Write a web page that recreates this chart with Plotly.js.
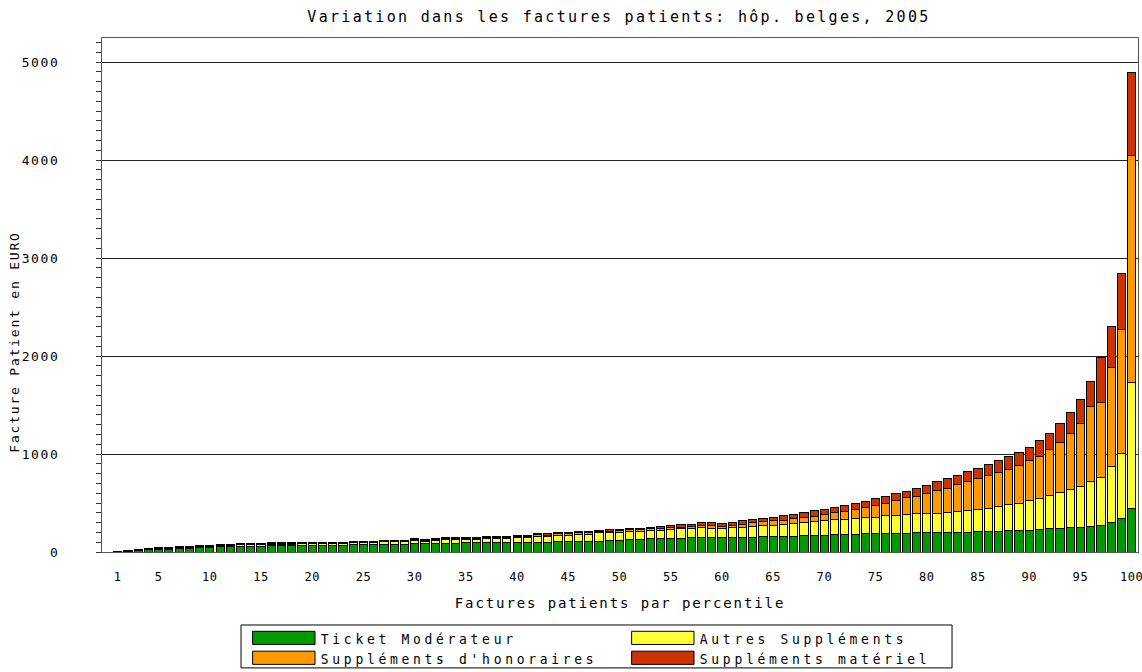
<!DOCTYPE html>
<html><head><meta charset="utf-8">
<script src="https://cdn.plot.ly/plotly-3.0.1.min.js"></script>
<style>
html,body{margin:0;padding:0;background:#fff}
#chart{width:1142px;height:672px}
text.gtitle{letter-spacing:2.3px}
text.xtitle{letter-spacing:1.9px}
text.annotation-text{letter-spacing:1.8px}
g.ytick text{letter-spacing:1.6px}
g.xtick text{letter-spacing:0.6px}
text.legendtext{letter-spacing:3.7px;transform-box:fill-box;transform-origin:center;transform:scaleY(1.15)}
g.legendpoints path{transform:translate(43px,0px) scale(5.2,1.1);vector-effect:non-scaling-stroke}
</style>
</head><body><div id="chart"></div><script>
const percentiles = [1,2,3,4,5,6,7,8,9,10,11,12,13,14,15,16,17,18,19,20,
21,22,23,24,25,26,27,28,29,30,31,32,33,34,35,36,37,38,39,40,
41,42,43,44,45,46,47,48,49,50,51,52,53,54,55,56,57,58,59,60,
61,62,63,64,65,66,67,68,69,70,71,72,73,74,75,76,77,78,79,80,
81,82,83,84,85,86,87,88,89,90,91,92,93,94,95,96,97,98,99,100];

const ticketModerateur = [6,10,16,21,28,29,38,39,46,47,54,55,59,60,60,64,65,65,68,70,
68,69,70,75,74,75,78,77,78,82,84,85,88,88,92,92,95,99,99,99,
100,102,102,105,106,109,111,111,122,122,126,126,133,136,139,140,143,143,146,149,
149,153,153,159,163,159,163,173,173,173,176,183,183,185,184,191,190,190,197,197,
197,197,197,197,207,207,207,217,217,224,231,240,241,248,255,259,266,300,338,441];

const autresSupplements = [2,3,5,7,8,8,10,10,12,12,13,13,14,14,14,16,15,16,18,18,
19,19,18,20,20,21,25,26,25,32,28,30,35,36,37,38,40,42,42,54,
53,58,54,68,64,71,72,83,72,82,86,88,88,86,89,95,92,102,95,92,
102,101,108,109,112,119,132,129,139,149,153,146,156,163,172,178,179,189,193,200,
200,206,217,227,231,241,259,266,283,304,310,336,369,390,417,465,493,569,669,1284];

const supplementsHonoraires = [1,2,3,3,4,4,5,5,5,5,6,5,6,6,6,6,6,6,7,7,
6,6,6,8,6,7,10,10,9,9,9,9,10,10,11,11,11,12,12,9,
9,15,16,14,15,17,14,14,20,14,14,15,17,20,21,17,23,27,28,20,
17,31,41,40,44,44,44,47,54,61,71,88,98,105,122,130,158,173,179,200,
231,245,276,300,310,335,344,362,386,403,431,465,511,576,638,759,765,1010,1262,2316];

const supplementsMateriel = [1,2,3,3,4,3,5,4,5,4,5,5,6,5,5,6,6,5,6,7,
6,5,5,6,5,6,9,9,7,10,8,9,10,9,10,9,10,10,10,8,
8,12,12,10,12,10,10,10,14,10,12,12,14,20,20,24,24,24,31,34,
34,37,34,38,37,54,47,51,54,48,51,54,58,65,70,70,73,69,79,86,
89,100,93,97,107,107,121,131,131,138,166,173,189,207,249,258,459,424,569,849];

const seriesNames = ['Ticket Modérateur','Autres Suppléments',"Suppléments d'honoraires",'Suppléments matériel'];
const seriesColors = ['#009900','#ffff33','#ff9900','#cc3300'];
const tickValues = [1,5,10,15,20,25,30,35,40,45,50,55,60,65,70,75,80,85,90,95,100];
const tickLabels = ['1','5','10','15','20','25','30','35','40','45','50','55','60','65','70','75','80','85','90','95','100'];
const titleText = 'Variation dans les factures patients: hôp. belges, 2005';
const xTitleText = 'Factures patients par percentile';
const yTitleText = 'Facture Patient en EURO';

const seriesValues = [ticketModerateur, autresSupplements, supplementsHonoraires, supplementsMateriel];
const FONT = 'DejaVu Sans Mono, Liberation Mono, monospace';

const traces = seriesValues.map((vals, i) => ({
  type: 'bar',
  x: percentiles,
  y: vals,
  name: seriesNames[i],
  marker: {color: seriesColors[i], line: {color: '#000', width: 1}},
  hoverinfo: 'x+y+name'
}));

const layout = {
  width: 1142, height: 672,
  paper_bgcolor: '#fff', plot_bgcolor: '#fff',
  margin: {l: 102, r: 4, t: 38, b: 120, autoexpand: false},
  barmode: 'stack',
  bargap: 0.2,
  title: {text: titleText,
          font: {family: FONT, size: 15, color: '#000'},
          x: 0.542, xanchor: 'center', y: 0.975, yanchor: 'middle'},
  xaxis: {
    range: [-0.53, 100.62],
    tickmode: 'array', tickvals: tickValues, ticktext: tickLabels,
    ticks: '', ticklabelstandoff: 14, ticklabeloverflow: 'allow',
    tickfont: {family: FONT, size: 12, color: '#000'},
    showgrid: false, zeroline: false,
    showline: true, linecolor: '#555', linewidth: 1, mirror: true,
    title: {text: xTitleText, standoff: 14,
            font: {family: FONT, size: 14, color: '#000'}}
  },
  yaxis: {
    range: [0, 5245],
    dtick: 1000, tick0: 0,
    ticks: 'outside', ticklen: 5, tickcolor: '#333',
    minor: {dtick: 100, ticks: 'outside', ticklen: 5, tickcolor: '#333'},
    ticklabelstandoff: 34,
    tickfont: {family: FONT, size: 13, color: '#000'},
    showgrid: true, gridcolor: '#222', gridwidth: 1,
    zeroline: false,
    showline: true, linecolor: '#555', linewidth: 1, mirror: true
  },
  annotations: [{
    text: yTitleText, textangle: -90,
    xref: 'paper', yref: 'paper', x: -0.084, y: 0.409,
    xanchor: 'center', yanchor: 'middle', showarrow: false,
    font: {family: FONT, size: 13, color: '#000'}
  }],
  shapes: [{
    type: 'rect', xref: 'paper', yref: 'paper', layer: 'below',
    x0: 0.1342, x1: 0.8205, y0: -0.2255, y1: -0.1420,
    line: {color: '#000', width: 1}, fillcolor: '#fff'
  }],
  showlegend: true,
  legend: {
    orientation: 'h', traceorder: 'normal',
    x: 0.134, xanchor: 'left', y: -0.138, yanchor: 'top',
    bgcolor: 'rgba(0,0,0,0)', borderwidth: 0,
    font: {family: FONT, size: 13, color: '#000'},
    itemwidth: 70, entrywidth: 294, entrywidthmode: 'pixels',
    itemclick: false, itemdoubleclick: false
  }
};

Plotly.newPlot('chart', traces, layout, {displayModeBar: false, staticPlot: true});
</script></body></html>
